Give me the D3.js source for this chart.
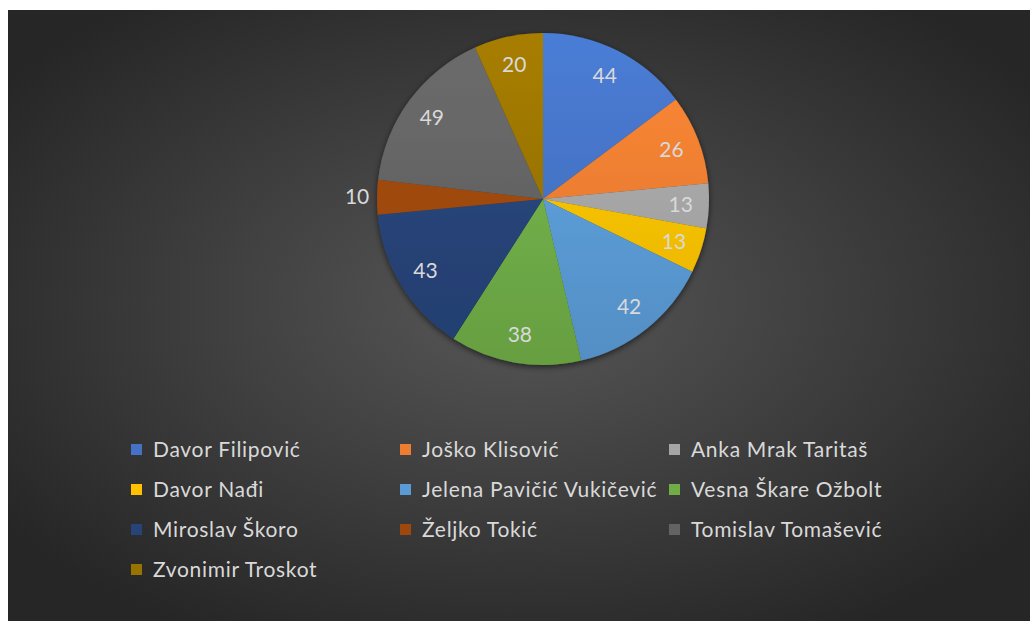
<!DOCTYPE html>
<html><head><meta charset="utf-8">
<script src="https://cdn.jsdelivr.net/npm/d3@7"></script>
<style>html,body{margin:0;padding:0;background:#fff;overflow:hidden}</style>
</head><body>
<svg id="chart" width="1030" height="621"></svg>
<script>
const categories = ["Davor Filipović","Joško Klisović","Anka Mrak Taritaš","Davor Nađi","Jelena Pavičić Vukičević","Vesna Škare Ožbolt","Miroslav Škoro","Željko Tokić","Tomislav Tomašević","Zvonimir Troskot"];
const values = [44,26,13,13,42,38,43,10,49,20];
const colors = ["#4472C4","#ED7D31","#A5A5A5","#FFC000","#5B9BD5","#70AD47","#264478","#9E480E","#636363","#997300"];

const svg = d3.select("#chart");
const W = 1030, H = 621;
const defs = svg.append("defs");
const bg = defs.append("radialGradient").attr("id","bg").attr("cx","50%").attr("cy","48%").attr("r","62%");
bg.append("stop").attr("offset","0%").attr("stop-color","#575757");
bg.append("stop").attr("offset","100%").attr("stop-color","#262626");
svg.append("rect").attr("x",8).attr("y",10).attr("width",W-8).attr("height",H-10).attr("fill","url(#bg)");

const sh = defs.append("filter").attr("id","shadow").attr("x","-20%").attr("y","-20%").attr("width","140%").attr("height","140%");
sh.append("feDropShadow").attr("dx",0).attr("dy",2).attr("stdDeviation",3).attr("flood-color","#000").attr("flood-opacity",0.6);

colors.forEach((c,i)=>{
  const g = defs.append("linearGradient").attr("id","g"+i).attr("gradientUnits","userSpaceOnUse")
    .attr("x1",0).attr("y1",-166).attr("x2",0).attr("y2",166);
  g.append("stop").attr("offset","0%").attr("stop-color",d3.color(c).brighter(0.25));
  g.append("stop").attr("offset","100%").attr("stop-color",d3.color(c).darker(0.25));
});

const cx = 543, cy = 199, R = 166;
const pie = d3.pie().sort(null).value(d=>d);
const arcs = pie(values);
const arc = d3.arc().innerRadius(0).outerRadius(R);
const g = svg.append("g").attr("transform",`translate(${cx},${cy})`);
g.append("g").attr("filter","url(#shadow)").selectAll("path").data(arcs).join("path")
  .attr("d",arc).attr("fill",(d,i)=>`url(#g${i})`);

const inLab = d3.arc().innerRadius(R*0.83).outerRadius(R*0.83);
const outLab = d3.arc().innerRadius(R*1.12).outerRadius(R*1.12);
g.selectAll("text.lab").data(arcs).join("text").attr("class","lab")
  .attr("transform",d=>{const small=(d.endAngle-d.startAngle)<0.24; const p=(small?outLab:inLab).centroid(d); return `translate(${p[0]},${p[1]})`;})
  .attr("text-anchor","middle").attr("dy","0.35em")
  .attr("font-family","Lato, 'Open Sans', sans-serif").attr("font-size",21)
  .attr("fill","#D9D9D9").text(d=>d.data);

const colX = [131, 400, 669];
const rowY = [450, 490, 530, 570];
const leg = svg.append("g");
categories.forEach((name,i)=>{
  const x = colX[i%3], y = rowY[Math.floor(i/3)];
  leg.append("rect").attr("x",x).attr("y",y-6).attr("width",11).attr("height",11).attr("fill",colors[i]);
  leg.append("text").attr("x",x+22).attr("y",y).attr("dy","0.35em")
    .attr("font-family","Lato, 'Open Sans', sans-serif").attr("font-size",21)
    .attr("letter-spacing",0.7)
    .attr("fill","#D9D9D9").text(name);
});
</script>
</body></html>
